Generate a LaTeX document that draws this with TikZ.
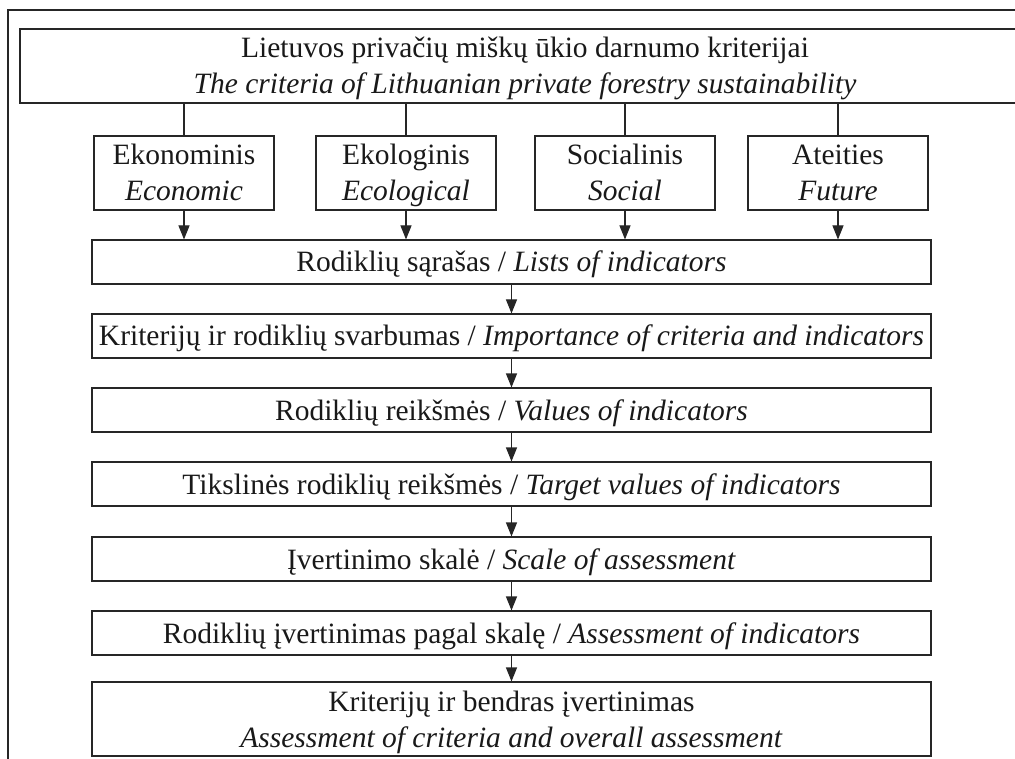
\documentclass[tikz,border=0pt]{standalone}
\usepackage{fontspec}
\setmainfont{Liberation Serif}
\usetikzlibrary{arrows.meta}
\newcommand\lnstrut{\rule[-8pt]{0pt}{36pt}}
\begin{document}
\begin{tikzpicture}[x=1pt,y=-1pt,
  box/.style={draw=black!85, line width=1.1pt, inner sep=0pt, align=center,
    font=\fontsize{29.5}{36}\selectfont, text=black!90},
  row/.style={box, minimum width=839pt, minimum height=44pt},
  crit/.style={box, minimum width=180pt, minimum height=74pt},
  link/.style={draw=black!85, line width=1.1pt},
  arr/.style={link, -{Triangle[length=14pt,width=11pt]}}]
\useasboundingbox (0,0) rectangle (1015,759);
\begin{scope}
\clip (0,0) rectangle (1015,759);
\draw[link] (1100,10) -- (8,10) -- (8,800);
\node[box, minimum width=1010pt, minimum height=74pt] (title) at (525,66)
  {\lnstrut Lietuvos privačių miškų ūkio darnumo kriterijai\\ \lnstrut\textit{The criteria of Lithuanian private forestry sustainability}};
\node[crit] (eko) at (184,173) {\lnstrut Ekonominis\\ \lnstrut\textit{Economic}};
\node[crit] (ekl) at (406,173) {\lnstrut Ekologinis\\ \lnstrut\textit{Ecological}};
\node[crit] (soc) at (625,173) {\lnstrut Socialinis\\ \lnstrut\textit{Social}};
\node[crit] (ate) at (838,173) {\lnstrut Ateities\\ \lnstrut\textit{Future}};
\node[row] (r1) at (511.5,262) {\lnstrut Rodiklių sąrašas / \textit{Lists of indicators}};
\node[row] (r2) at (511.5,336) {\lnstrut Kriterijų ir rodiklių svarbumas / \textit{Importance of criteria and indicators}};
\node[row] (r3) at (511.5,410) {\lnstrut Rodiklių reikšmės / \textit{Values of indicators}};
\node[row] (r4) at (511.5,484) {\lnstrut Tikslinės rodiklių reikšmės / \textit{Target values of indicators}};
\node[row] (r5) at (511.5,559) {\lnstrut Įvertinimo skalė / \textit{Scale of assessment}};
\node[row] (r6) at (511.5,633) {\lnstrut Rodiklių įvertinimas pagal skalę / \textit{Assessment of indicators}};
\node[row, minimum height=74pt] (r7) at (511.5,719) {\lnstrut Kriterijų ir bendras įvertinimas\\ \lnstrut\textit{Assessment of criteria and overall assessment}};
\foreach \c in {eko,ekl,soc,ate}{
  \draw[link] (\c.north |- title.south) -- (\c.north);
  \draw[arr] (\c.south) -- (\c.south |- r1.north);
}
\draw[arr] (r1) -- (r2);
\draw[arr] (r2) -- (r3);
\draw[arr] (r3) -- (r4);
\draw[arr] (r4) -- (r5);
\draw[arr] (r5) -- (r6);
\draw[arr] (r6) -- (r7);
\end{scope}
\end{tikzpicture}
\end{document}
